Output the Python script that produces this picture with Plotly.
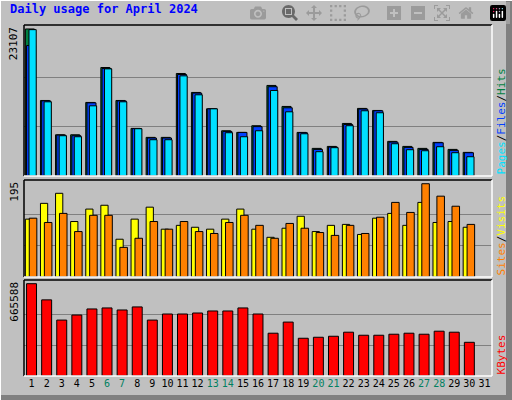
import plotly.graph_objects as go

days = list(range(1, 32))
weekend = [6, 7, 13, 14, 20, 21, 27, 28]

hits = [23107, 11870, 6480, 6480, 11560, 17050, 11870, 7480, 6070, 6070, 16110, 13130, 10560, 7110, 6850,
        7900, 14230, 10930, 6850, 4340, 4650, 8260, 10620, 10300, 5440, 4650, 4340, 5280, 4180, 3710]
files = [20500, 11800, 6430, 6330, 11500, 16900, 11800, 7450, 5970, 5970, 15950, 13030, 10560, 7010, 6850,
         7760, 14030, 10720, 6800, 4180, 4550, 8100, 10520, 10250, 5330, 4500, 4180, 5230, 4030, 3660]
pages = [23000, 11660, 6330, 6170, 11030, 16840, 11660, 7430, 5700, 5700, 15740, 12760, 10560, 6800, 6170,
         7110, 13440, 10090, 6640, 3820, 4450, 7900, 10250, 9940, 5070, 4130, 3970, 4600, 3660, 3030]
visits = [121, 154, 175, 116, 142, 150, 79, 121, 146, 100, 108, 104, 100, 121, 142,
          100, 83, 102, 127, 95, 108, 110, 89, 123, 133, 108, 156, 114, 116, 104]
sites = [123, 114, 133, 95, 129, 129, 62, 81, 116, 100, 116, 95, 91, 114, 129,
         108, 81, 112, 102, 93, 87, 108, 91, 125, 156, 135, 195, 169, 148, 110]
kbytes = [665588, 549000, 403200, 439700, 483400, 490700, 476100, 498000, 403200, 447000, 447000, 454200,
          468800, 468800, 490700, 447000, 308500, 388700, 272100, 279400, 286600, 315800, 293900, 293900,
          301200, 308500, 301200, 323100, 315800, 242900]

BG = "#C0C0C0"
FONT = "DejaVu Sans Mono"
fig = go.Figure()
x = days[:len(hits)]


def bar(y, color, off, w, ax):
    fig.add_trace(go.Bar(x=x, y=y, marker_color=color, marker_line=dict(color="black", width=1),
                         offset=off, width=w, xaxis="x" + ax, yaxis="y" + ax, showlegend=False))


bar(hits, "#008040", -0.41, 0.6, "")
bar(files, "#0040FF", -0.33, 0.6, "")
bar(pages, "#00E0FF", -0.17, 0.48, "")
bar(visits, "#FFFF00", -0.41, 0.48, "2")
bar(sites, "#FF8000", -0.15, 0.5, "2")
bar(kbytes, "#FF0000", -0.33, 0.66, "3")

ticktext = [f"<span style='color:#008060'>{d}</span>" if d in weekend else str(d) for d in days]

def yax(dom, mx, frac):
    return dict(domain=dom, range=[0, mx * frac], tickvals=[mx / 3, mx * 2 / 3], showticklabels=False,
                gridcolor="#808080", gridwidth=1, zeroline=False, fixedrange=True)

xbase = dict(range=[0.5, 31.5], showgrid=False, zeroline=False, showticklabels=False, ticks="")
fig.update_layout(
    width=512, height=400, paper_bgcolor=BG, plot_bgcolor=BG,
    margin=dict(l=24, r=20, t=25, b=24), barmode="overlay",
    font=dict(family=FONT, size=11, color="black"),
    xaxis=dict(xbase, anchor="y"), xaxis2=dict(xbase, anchor="y2"),
    xaxis3=dict(xbase, anchor="y3", showticklabels=True, tickvals=days, ticktext=ticktext,
                tickangle=0, tickfont=dict(size=10)),
    yaxis=yax([0.5698, 1], max(hits), 1.027),
    yaxis2=yax([0.282, 0.5584], max(max(visits), max(sites)), 1.04),
    yaxis3=yax([0, 0.2735], max(kbytes), 1.04),
)

fig.add_annotation(text="<b>Daily usage for April 2024</b>", xref="paper", yref="paper", x=-0.034, y=1.045,
                   xanchor="left", yanchor="middle", showarrow=False, font=dict(color="#0000FF", size=12))

for ya, label in [("y", str(max(hits))), ("y2", str(max(max(visits), max(sites)))), ("y3", str(max(kbytes)))]:
    fig.add_annotation(text=label, xref="paper", yref=ya + " domain", x=-0.004, y=1.0, textangle=-90,
                       xanchor="right", yanchor="top", showarrow=False, font=dict(size=11))

right = [("y", "<span style='color:#00E0FF'>Pages</span>/<span style='color:#0040FF'>Files</span>/<span style='color:#008040'>Hits</span>"),
         ("y2", "<span style='color:#FF8000'>Sites</span>/<span style='color:#FFFF00'>Visits</span>"),
         ("y3", "<span style='color:#FF0000'>KBytes</span>")]
for ya, label in right:
    fig.add_annotation(text=label, xref="paper", yref=ya + " domain", x=1.002, y=0.0, textangle=-90,
                       xanchor="left", yanchor="bottom", showarrow=False, font=dict(size=11, color="black"))

# panel bevels
for ya in ["y", "y2", "y3"]:
    yr = ya + " domain"
    fig.add_shape(type="line", xref="paper", yref=yr, x0=0, x1=1, y0=1, y1=1, line=dict(color="black", width=1.5))
    fig.add_shape(type="line", xref="paper", yref=yr, x0=0, x1=0, y0=0, y1=1, line=dict(color="black", width=1.5))
    fig.add_shape(type="line", xref="paper", yref=yr, x0=1, x1=1, y0=0, y1=1, line=dict(color="white", width=1.5))
    fig.add_shape(type="line", xref="paper", yref=yr, x0=0, x1=1, y0=0, y1=0, line=dict(color="white", width=1.5))

# outer frame
px = lambda p: (p - 24) / 468
py = lambda p: (376 - p) / 351
fig.add_shape(type="rect", xref="paper", yref="paper", x0=px(506), x1=px(513), y0=py(401), y1=py(0),
              line_width=0, fillcolor="#808080", layer="below")
fig.add_shape(type="rect", xref="paper", yref="paper", x0=px(-1), x1=px(513), y0=py(401), y1=py(395),
              line_width=0, fillcolor="#808080", layer="below")
fig.add_shape(type="line", xref="paper", yref="paper", x0=px(0.5), x1=px(0.5), y0=py(0), y1=py(400),
              line=dict(color="white", width=1))
fig.add_shape(type="line", xref="paper", yref="paper", x0=px(0), x1=px(512), y0=py(0.5), y1=py(0.5),
              line=dict(color="white", width=1))

fig.write_html("out.html")
with open("out.html") as f:
    html = f.read()
html = html.replace("<body>", "<body style='margin:0;overflow:hidden'>", 1)
with open("out.html", "w") as f:
    f.write(html)
